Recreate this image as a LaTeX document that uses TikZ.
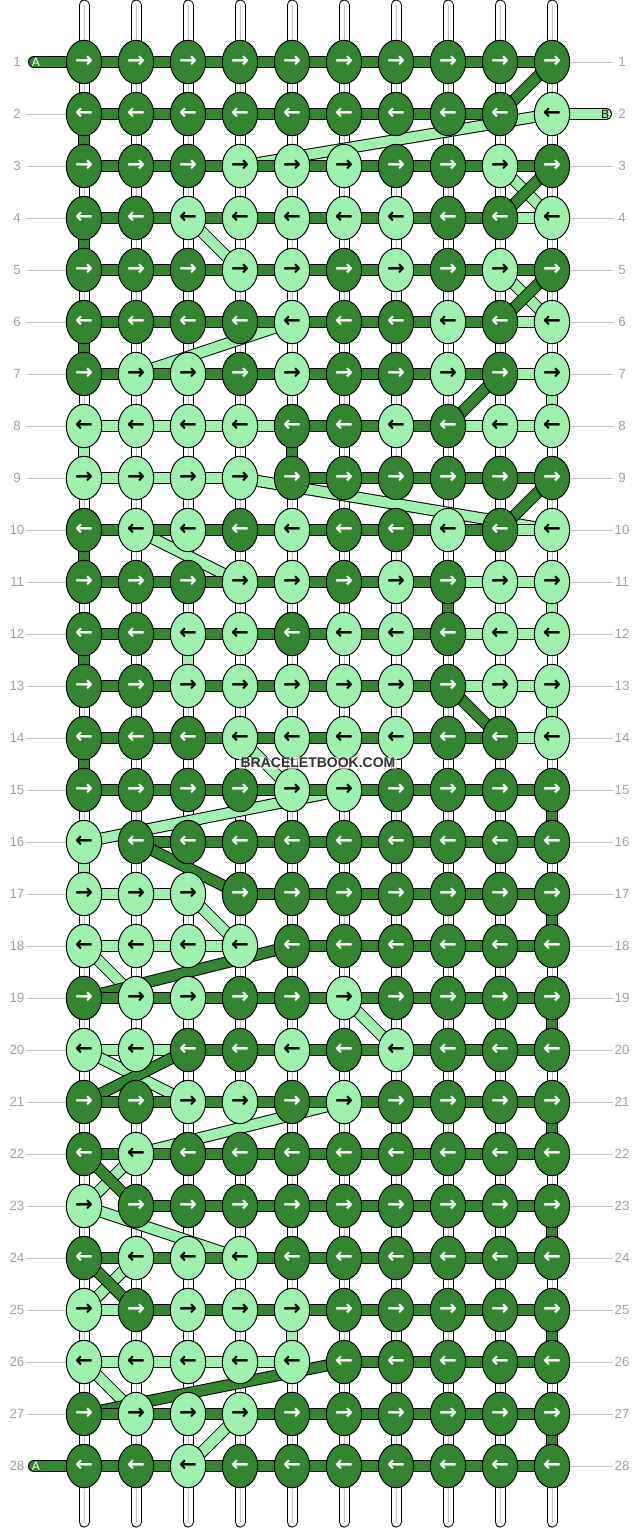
\documentclass[tikz,border=0pt]{standalone}
\usepackage{fontspec}
\setmainfont{Liberation Sans}
\newfontfamily\arrowfont{DejaVu Sans}
\usetikzlibrary{shapes.geometric,backgrounds}
\definecolor{filld}{RGB}{51,133,48}
\definecolor{filll}{RGB}{158,242,174}
\definecolor{markd}{RGB}{255,255,255}
\definecolor{markl}{RGB}{0,0,0}
\definecolor{rowgray}{RGB}{160,160,160}
\definecolor{guidegray}{RGB}{195,195,195}
\tikzset{
  knot/.style={ellipse, draw=black, line width=0.75pt, fill=fill#1, text=mark#1,
    minimum width=26.5pt, minimum height=32.5pt, inner sep=0pt,
    font=\arrowfont\bfseries\fontsize{16}{16}\selectfont},
  thread/.style={draw=black, line width=0.75pt, double=fill#1, double distance=7.5pt},
}
\tikzstyle{string} = [draw=black, line width=0.75pt, double=white, double distance=6.75pt, line cap=round]
\tikzstyle{string core} = [guidegray, line width=0.5pt]
\tikzstyle{tail} = [line cap=round]
\tikzstyle{tail label} = [font=\fontsize{9}{9}\selectfont, inner sep=0pt]
\tikzstyle{guide} = [guidegray, line width=0.75pt]
\tikzstyle{row label} = [text=rowgray, font=\fontsize{10}{10}\selectfont, inner sep=0pt]
\tikzstyle{watermark} = [font=\bfseries\fontsize{10.5}{10.5}\selectfont, text=black!80,
  fill=white, fill opacity=0.6, text opacity=1, inner sep=1pt]

\begin{document}
\begin{tikzpicture}[x=0.75pt, y=-0.75pt]
        \useasboundingbox (0,0) rectangle (636,1528);
        % knots, row by row (d = dark thread A, l = light thread B)
        \foreach \r/\knots in {
          1/{d,d,d,d,d,d,d,d,d,d}, 2/{d,d,d,d,d,d,d,d,d,l},
          3/{d,d,d,l,l,l,d,d,l,d}, 4/{d,d,l,l,l,l,l,d,d,l},
          5/{d,d,d,l,l,d,l,d,l,d}, 6/{d,d,d,d,l,d,d,l,d,l},
          7/{d,l,l,d,l,d,d,l,d,l}, 8/{l,l,l,l,d,d,l,d,l,l},
          9/{l,l,l,l,d,d,d,d,d,d}, 10/{d,l,l,d,l,d,d,l,d,l},
          11/{d,d,d,l,l,d,l,d,l,l}, 12/{d,d,l,l,d,l,l,d,l,l},
          13/{d,d,l,l,l,l,l,d,l,l}, 14/{d,d,d,l,l,l,l,d,d,l},
          15/{d,d,d,d,l,l,d,d,d,d}, 16/{l,d,d,d,d,d,d,d,d,d},
          17/{l,l,l,d,d,d,d,d,d,d}, 18/{l,l,l,l,d,d,d,d,d,d},
          19/{d,l,l,d,d,l,d,d,d,d}, 20/{l,l,d,d,l,d,l,d,d,d},
          21/{d,d,l,l,d,l,d,d,d,d}, 22/{d,l,d,d,d,d,d,d,d,d},
          23/{l,d,d,d,d,d,d,d,d,d}, 24/{d,l,l,l,d,d,d,d,d,d},
          25/{l,d,l,l,l,d,d,d,d,d}, 26/{l,l,l,l,l,d,d,d,d,d},
          27/{d,l,l,l,d,d,d,d,d,d}, 28/{d,d,l,d,d,d,d,d,d,d}} {
          \foreach \k [count=\c] in \knots {
            \ifodd\r \def\arr{→}\else \def\arr{←}\fi
            \node[knot=\k] (k-\r-\c) at ({84+52*(\c-1)},{62+52*(\r-1)}) {\arr};
            \expandafter\xdef\csname kc-\r-\c\endcsname{\k}
          }
        }
        
        \begin{scope}[on background layer]
          % white strings
          \foreach \c in {1,...,10} {
            \coordinate (top-\c) at ({84+52*(\c-1)},5);
            \coordinate (bot-\c) at ({84+52*(\c-1)},1522);
            \draw[string] (top-\c) -- (bot-\c);
            \draw[string core] (top-\c) -- (bot-\c);
          }
          % threads: light one first, dark one on top
          \foreach \thr in {l,d} {
            \edef\want{\thr}
            \gdef\lastknot{}
            \foreach \r in {1,...,28} {
              \ifodd\r \def\cols{1,...,10}\else \def\cols{10,9,...,1}\fi
              \foreach \c in \cols {
                \edef\here{\csname kc-\r-\c\endcsname}
                \ifx\here\want
                  \ifx\lastknot\empty\else
                    \draw[thread=\want] (\lastknot.center) -- (k-\r-\c.center);
                  \fi
                  \xdef\lastknot{k-\r-\c}
                \fi
              }
            }
          }
          % loose ends
          \coordinate (tail-a) at (34,62);
          \coordinate (tail-b) at (606,114);
          \coordinate (tail-z) at (34,1466);
          \draw[thread=d,tail] (tail-a) -- (k-1-1.center);
          \draw[thread=l,tail] (k-2-10.center) -- (tail-b);
          \draw[thread=d,tail] (k-28-1.center) -- (tail-z);
        \end{scope}
        \node[tail label,text=white] (label-a) at (36,62) {A};
        \node[tail label] (label-b) at (605,114) {B};
        \node[tail label,text=white] (label-z) at (36,1466) {A};
        
        % row numbers
        \foreach \r in {1,...,28} {
          \node[row label] (lnum-\r) at (17,{62+52*(\r-1)}) {\r};
          \node[row label] (rnum-\r) at (622,{62+52*(\r-1)}) {\r};
          \coordinate (lend-\r) at (27,{62+52*(\r-1)});
          \coordinate (rend-\r) at (613,{62+52*(\r-1)});
        }
        \foreach \r in {2,...,27} \draw[guide] (lend-\r) -- (k-\r-1.west);
        \foreach \r in {1,3,4,...,28} \draw[guide] (k-\r-10.east) -- (rend-\r);
        
        \node[watermark] (logo) at (318,763) {BRACELETBOOK.COM};
\end{tikzpicture}
\end{document}
